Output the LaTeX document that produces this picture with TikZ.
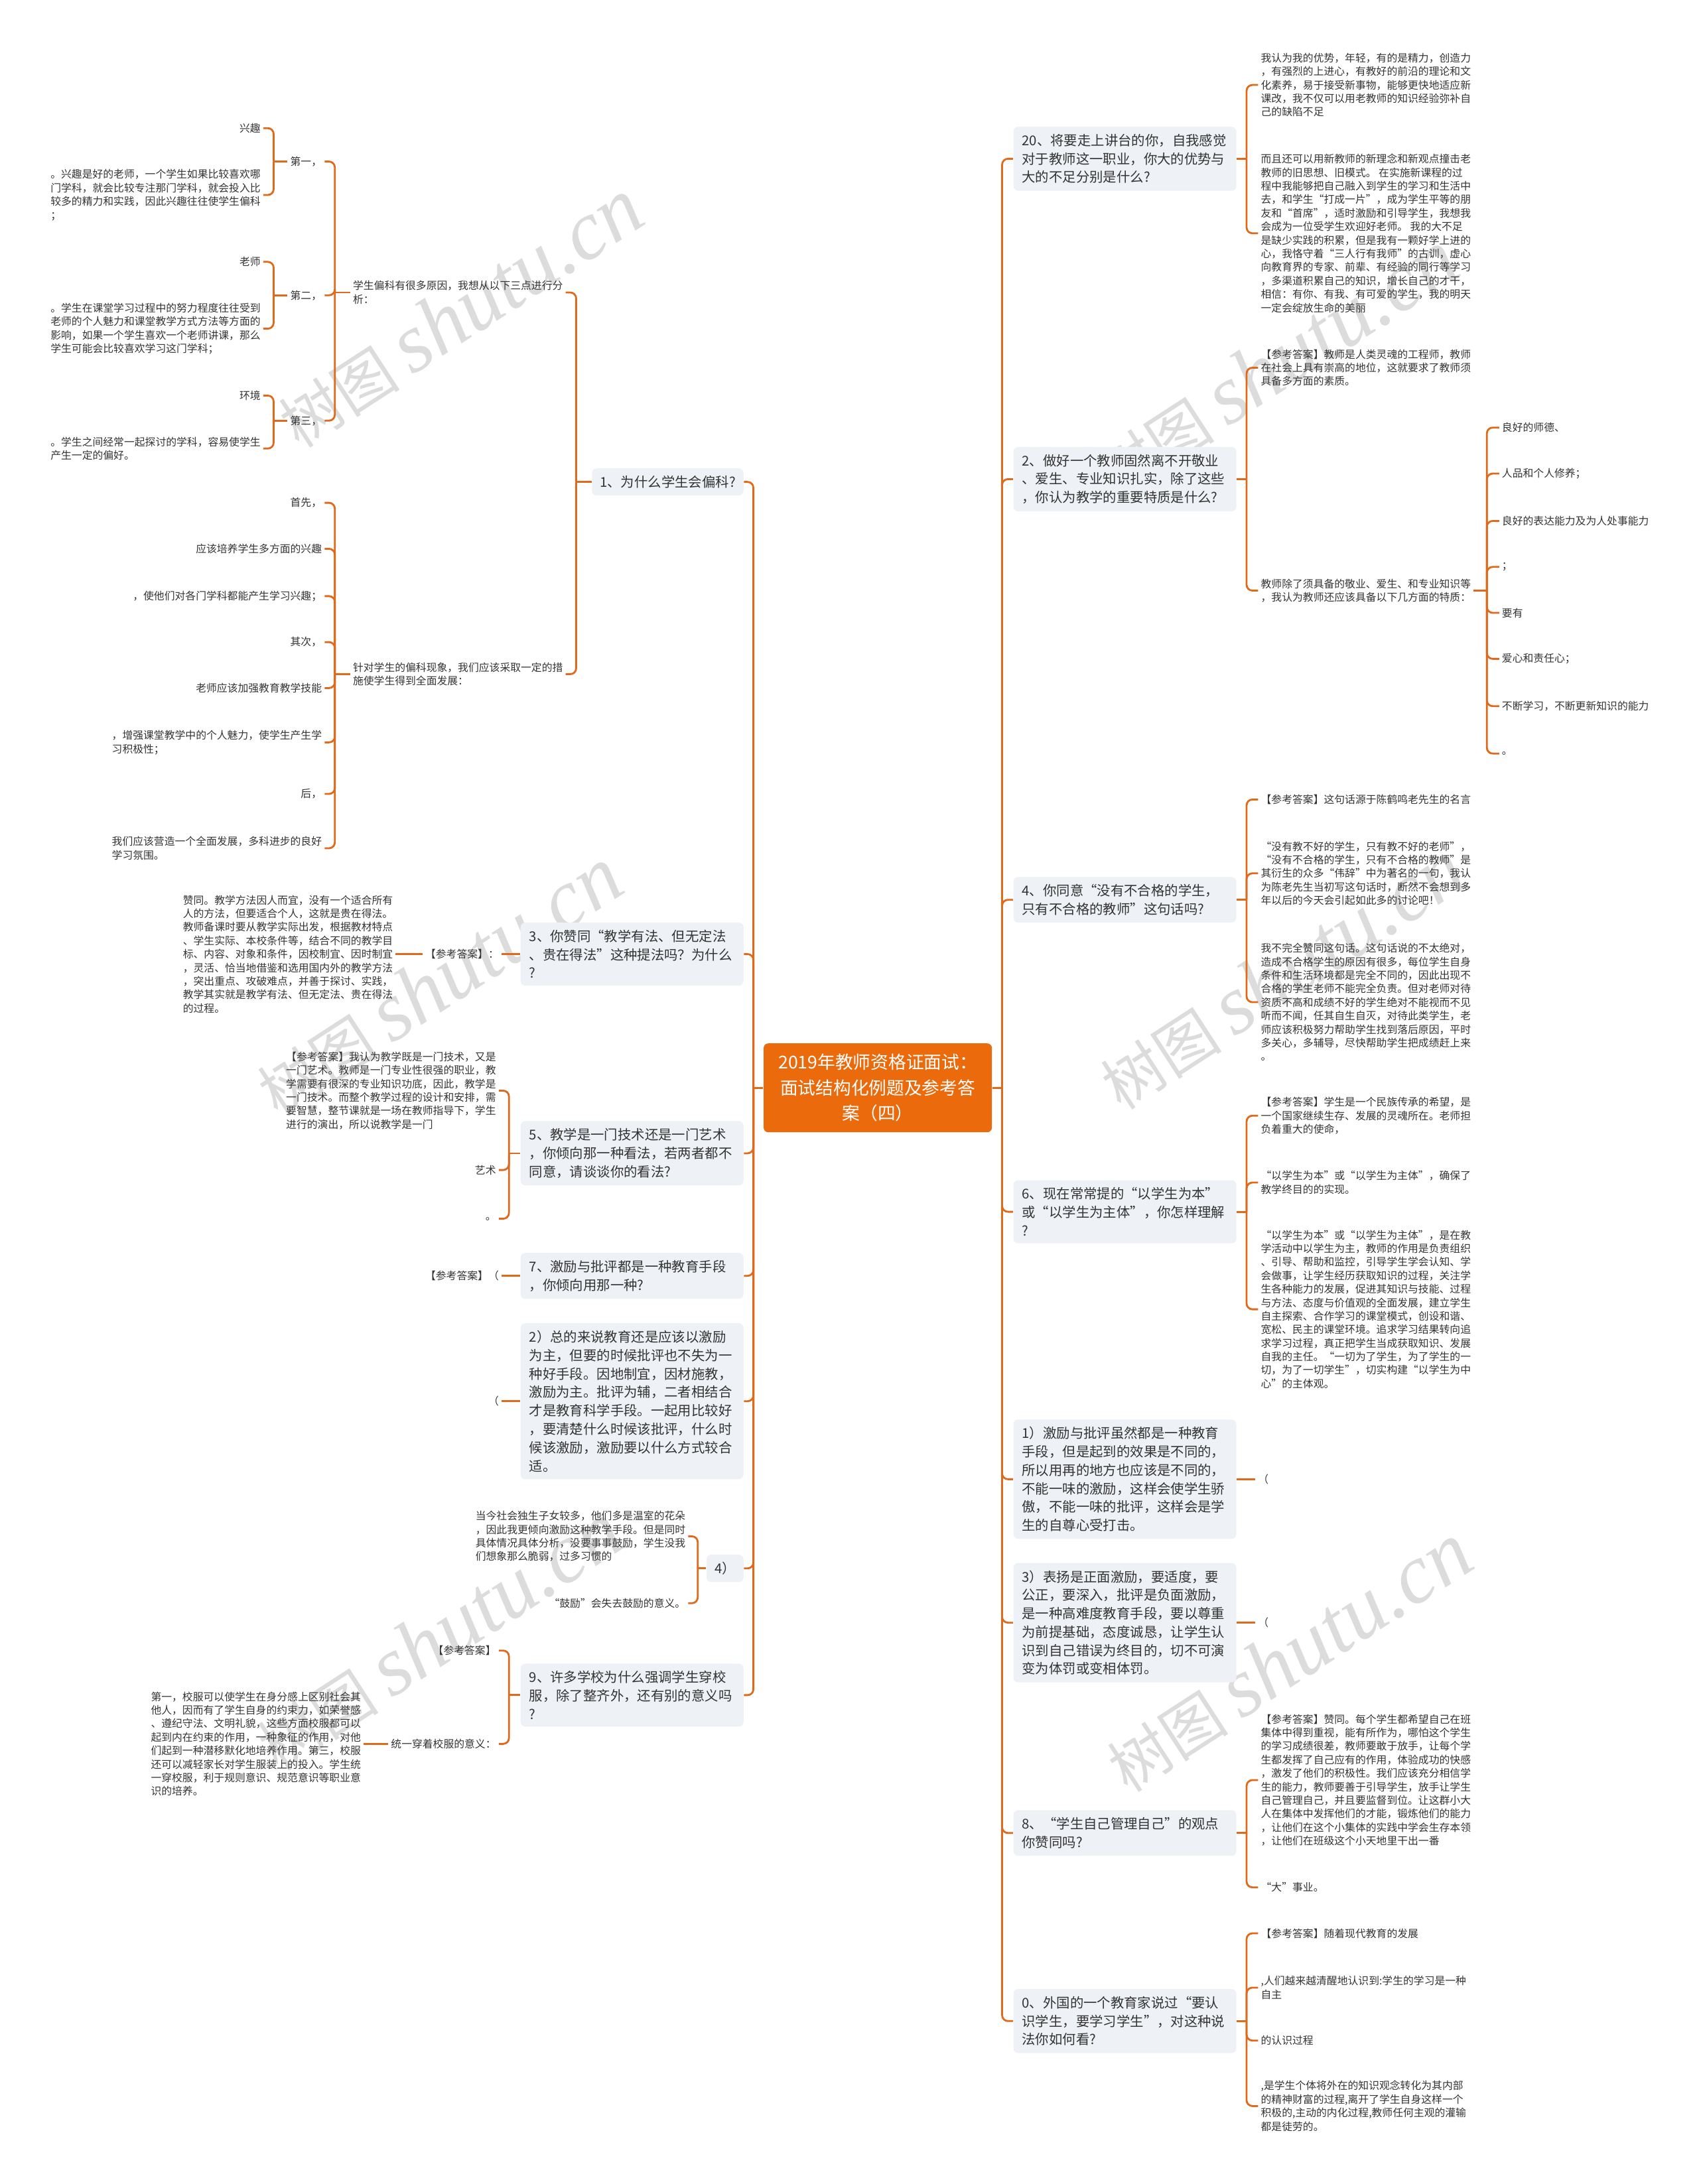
\documentclass[tikz,border=0pt]{standalone}
\usepackage{fontspec}
\setmainfont{Noto Sans CJK SC}
\newfontfamily\wmserif{Liberation Serif}
\definecolor{lineorange}{HTML}{E06A1B}
\definecolor{rootorange}{HTML}{EA6A0C}
\definecolor{boxgray}{HTML}{EEF1F5}
\definecolor{textgray}{HTML}{333333}
\definecolor{wmgray}{HTML}{DCDCDC}

\begin{document}
\begin{tikzpicture}[x=0.021cm, y=-0.021cm,
  link/.style={draw=lineorange, line width=0.8pt, rounded corners=2.5pt},
  rootbox/.style={fill=rootorange, text=white, rounded corners=2pt, inner sep=0pt,
    minimum width=3.44cm, minimum height=1.34cm, align=center,
    font=\fontsize{7.6pt}{10.9pt}\selectfont},
  qbase/.style={fill=boxgray, rounded corners=2pt, inner xsep=0.12cm, inner ysep=0.11cm,
    align=left, text=textgray, font=\fontsize{5.8pt}{7.9pt}\selectfont},
  qbox/.style={qbase, text width=3.1cm, inner xsep=0.13cm},
  leaf/.style={inner sep=1pt, align=left, text=textgray, font=\fontsize{4.5pt}{5.8pt}\selectfont},
  wmtext/.style={text=wmgray, rotate=33, inner sep=0pt, font=\fontsize{26pt}{30pt}\selectfont}]

\useasboundingbox (0,0) rectangle (1219,1568);

% Watermarks
\foreach \wx/\wy in {330/225, 915/262, 315/705, 920/700, 315/1175, 925/1190}
  \node[wmtext] (wm\wx) at (\wx,\wy) {树图 {\wmserif\itshape\fontsize{36pt}{40pt}\selectfont shutu.cn}};

% Root
\node[rootbox] (root) at (630,781) {2019年教师资格证面试：\\面试结构化例题及参考答\\案（四）};

% Right questions
\node[qbox, anchor=west] (q20) at (727,114) {20、将要走上讲台的你，自我感觉\\对于教师这一职业，你大的优势与\\大的不足分别是什么?};
\node[qbox, anchor=west] (q2) at (727,344) {2、做好一个教师固然离不开敬业\\、爱生、专业知识扎实，除了这些\\，你认为教学的重要特质是什么?};
\node[qbox, anchor=west] (q4) at (727,646) {4、你同意“没有不合格的学生，\\只有不合格的教师”这句话吗?};
\node[qbox, anchor=west] (q6) at (727,870) {6、现在常常提的“以学生为本”\\或“以学生为主体”，你怎样理解\\?};
\node[qbox, anchor=west] (q1r) at (727,1062) {1）激励与批评虽然都是一种教育\\手段，但是起到的效果是不同的，\\所以用再的地方也应该是不同的，\\不能一味的激励，这样会使学生骄\\傲，不能一味的批评，这样会是学\\生的自尊心受打击。};
\node[qbox, anchor=west] (q3r) at (727,1165) {3）表扬是正面激励，要适度，要\\公正，要深入，批评是负面激励，\\是一种高难度教育手段，要以尊重\\为前提基础，态度诚恳，让学生认\\识到自己错误为终目的，切不可演\\变为体罚或变相体罚。};
\node[qbox, anchor=west] (q8) at (727,1316) {8、“学生自己管理自己”的观点\\你赞同吗?};
\node[qbox, anchor=west] (q0) at (727,1451) {0、外国的一个教育家说过“要认\\识学生，要学习学生”，对这种说\\法你如何看?};

% Left questions
\node[qbase, anchor=east] (q1) at (534,346) {1、为什么学生会偏科?};
\node[qbox, anchor=east] (q3) at (534,685) {3、你赞同“教学有法、但无定法\\、贵在得法”这种提法吗？为什么\\?};
\node[qbox, anchor=east] (q5) at (534,828) {5、教学是一门技术还是一门艺术\\，你倾向那一种看法，若两者都不\\同意，请谈谈你的看法?};
\node[qbox, anchor=east] (q7) at (534,916) {7、激励与批评都是一种教育手段\\，你倾向用那一种?};
\node[qbox, anchor=east] (q2l) at (534,1006) {2）总的来说教育还是应该以激励\\为主，但要的时候批评也不失为一\\种好手段。因地制宜，因材施教，\\激励为主。批评为辅，二者相结合\\才是教育科学手段。一起用比较好\\，要清楚什么时候该批评，什么时\\候该激励，激励要以什么方式较合\\适。};
\node[qbase, anchor=east] (q4l) at (534,1126) {4）};
\node[qbox, anchor=east] (q9) at (534,1217) {9、许多学校为什么强调学生穿校\\服，除了整齐外，还有别的意义吗\\?};

% Main connectors
\draw[link] (root.east) -- ++(7,0) coordinate (rb);
\foreach \q in {q20,q2,q4,q6,q1r,q3r,q8,q0}
  \draw[link] (rb) |- (\q.west);
\draw[link] (root.west) -- ++(-7,0) coordinate (lb);
\foreach \q in {q1,q3,q5,q7,q2l,q4l,q9}
  \draw[link] (lb) |- (\q.east);

% 20
\node[leaf, anchor=west] (q20a) at (903,61) {我认为我的优势，年轻，有的是精力，创造力\\，有强烈的上进心，有教好的前沿的理论和文\\化素养，易于接受新事物，能够更快地适应新\\课改，我不仅可以用老教师的知识经验弥补自\\己的缺陷不足};
\node[leaf, anchor=west] (q20b) at (903,167.5) {而且还可以用新教师的新理念和新观点撞击老\\教师的旧思想、旧模式。 在实施新课程的过\\程中我能够把自己融入到学生的学习和生活中\\去，和学生“打成一片”，成为学生平等的朋\\友和“首席”，适时激励和引导学生，我想我\\会成为一位受学生欢迎好老师。 我的大不足\\是缺少实践的积累，但是我有一颗好学上进的\\心，我恪守着“三人行有我师”的古训，虚心\\向教育界的专家、前辈、有经验的同行等学习\\，多渠道积累自己的知识，增长自己的才干，\\相信：有你、有我、有可爱的学生，我的明天\\一定会绽放生命的美丽};
\draw[link] (q20.east) -- ++(7,0) coordinate (b20);
\foreach \c in {q20a,q20b} \draw[link] (b20) |- (\c.west);

% 2
\node[leaf, anchor=west] (q2a) at (903,264) {【参考答案】教师是人类灵魂的工程师，教师\\在社会上具有崇高的地位，这就要求了教师须\\具备多方面的素质。};
\node[leaf, anchor=west] (q2b) at (903,424) {教师除了须具备的敬业、爱生、和专业知识等\\，我认为教师还应该具备以下几方面的特质：};
\draw[link] (q2.east) -- ++(7,0) coordinate (b2);
\foreach \c in {q2a,q2b} \draw[link] (b2) |- (\c.west);
\foreach \n/\y/\t in {1/307/良好的师德、, 2/340/人品和个人修养；, 3/374/良好的表达能力及为人处事能力, 4/407/；, 5/440/要有, 6/473/爱心和责任心；, 7/507/不断学习，不断更新知识的能力, 8/541/。}
  \node[leaf, anchor=west] (q2b\n) at (1076,\y) {\t};
\draw[link] (q2b.east) -- ++(9.5,0) coordinate (b2b);
\foreach \n in {1,...,8} \draw[link] (b2b) |- (q2b\n.west);

% 4
\node[leaf, anchor=west] (q4a) at (903,574) {【参考答案】这句话源于陈鹤鸣老先生的名言};
\node[leaf, anchor=west] (q4b) at (903,627) {“没有教不好的学生，只有教不好的老师”，\\“没有不合格的学生，只有不合格的教师”是\\其衍生的众多“伟辞”中为著名的一句，我认\\为陈老先生当初写这句话时，断然不会想到多\\年以后的今天会引起如此多的讨论吧！};
\node[leaf, anchor=west] (q4c) at (903,719.5) {我不完全赞同这句话。这句话说的不太绝对，\\造成不合格学生的原因有很多，每位学生自身\\条件和生活环境都是完全不同的，因此出现不\\合格的学生老师不能完全负责。但对老师对待\\资质不高和成绩不好的学生绝对不能视而不见\\听而不闻，任其自生自灭，对待此类学生，老\\师应该积极努力帮助学生找到落后原因，平时\\多关心，多辅导，尽快帮助学生把成绩赶上来\\。};
\draw[link] (q4.east) -- ++(7,0) coordinate (b4);
\foreach \c in {q4a,q4b,q4c} \draw[link] (b4) |- (\c.west);

% 6
\node[leaf, anchor=west] (q6a) at (903,801) {【参考答案】学生是一个民族传承的希望，是\\一个国家继续生存、发展的灵魂所在。老师担\\负着重大的使命，};
\node[leaf, anchor=west] (q6b) at (903,849) {“以学生为本”或“以学生为主体”，确保了\\教学终目的的实现。};
\node[leaf, anchor=west] (q6c) at (903,940) {“以学生为本”或“以学生为主体”，是在教\\学活动中以学生为主，教师的作用是负责组织\\、引导、帮助和监控，引导学生学会认知、学\\会做事，让学生经历获取知识的过程，关注学\\生各种能力的发展，促进其知识与技能、过程\\与方法、态度与价值观的全面发展，建立学生\\自主探索、合作学习的课堂模式，创设和谐、\\宽松、民主的课堂环境。追求学习结果转向追\\求学习过程，真正把学生当成获取知识、发展\\自我的主任。“一切为了学生，为了学生的一\\切，为了一切学生”，切实构建“以学生为中\\心”的主体观。};
\draw[link] (q6.east) -- ++(7,0) coordinate (b6);
\foreach \c in {q6a,q6b,q6c} \draw[link] (b6) |- (\c.west);

% 1) and 3)
\node[leaf, anchor=west] (q1ra) at (901,1062) {（};
\draw[link] (q1r.east) -- (q1ra.west);
\node[leaf, anchor=west] (q3ra) at (901,1165) {（};
\draw[link] (q3r.east) -- (q3ra.west);

% 8
\node[leaf, anchor=west] (q8a) at (903,1278) {【参考答案】赞同。每个学生都希望自己在班\\集体中得到重视，能有所作为，哪怕这个学生\\的学习成绩很差，教师要敢于放手，让每个学\\生都发挥了自己应有的作用，体验成功的快感\\，激发了他们的积极性。我们应该充分相信学\\生的能力，教师要善于引导学生，放手让学生\\自己管理自己，并且要监督到位。让这群小大\\人在集体中发挥他们的才能，锻炼他们的能力\\，让他们在这个小集体的实践中学会生存本领\\，让他们在班级这个小天地里干出一番};
\node[leaf, anchor=west] (q8b) at (903,1355) {“大”事业。};
\draw[link] (q8.east) -- ++(7,0) coordinate (b8);
\foreach \c in {q8a,q8b} \draw[link] (b8) |- (\c.west);

% 0
\node[leaf, anchor=west] (q0a) at (903,1388) {【参考答案】随着现代教育的发展};
\node[leaf, anchor=west] (q0b) at (903,1427) {,人们越来越清醒地认识到:学生的学习是一种\\自主};
\node[leaf, anchor=west] (q0c) at (903,1465) {的认识过程};
\node[leaf, anchor=west] (q0d) at (903,1512) {,是学生个体将外在的知识观念转化为其内部\\的精神财富的过程,离开了学生自身这样一个\\积极的,主动的内化过程,教师任何主观的灌输\\都是徒劳的。};
\draw[link] (q0.east) -- ++(7,0) coordinate (b0);
\foreach \c in {q0a,q0b,q0c,q0d} \draw[link] (b0) |- (\c.west);

% 1 (left)
\node[leaf, anchor=east] (q1a) at (406,210) {学生偏科有很多原因，我想从以下三点进行分\\析：};
\node[leaf, anchor=east] (q1b) at (406,484) {针对学生的偏科现象，我们应该采取一定的措\\施使学生得到全面发展：};
\draw[link] (q1.west) -- ++(-11,0) coordinate (b1);
\foreach \c in {q1a,q1b} \draw[link] (b1) |- (\c.east);

\foreach \n/\y/\t in {1/116/第一，, 2/212/第二，, 3/302/第三，}
  \node[leaf, anchor=east] (q1a\n) at (233,\y) {\t};
\draw[link] (q1a.west) -- ++(-11,0) coordinate (b1a);
\foreach \n in {1,2,3} \draw[link] (b1a) |- (q1a\n.east);

\node[leaf, anchor=east] (q1a1x) at (189,92) {兴趣};
\node[leaf, anchor=east] (q1a1y) at (189,140) {。兴趣是好的老师，一个学生如果比较喜欢哪\\门学科，就会比较专注那门学科，就会投入比\\较多的精力和实践，因此兴趣往往使学生偏科\\；};
\node[leaf, anchor=east] (q1a2x) at (189,188) {老师};
\node[leaf, anchor=east] (q1a2y) at (189,236) {。学生在课堂学习过程中的努力程度往往受到\\老师的个人魅力和课堂教学方式方法等方面的\\影响，如果一个学生喜欢一个老师讲课，那么\\学生可能会比较喜欢学习这门学科；};
\node[leaf, anchor=east] (q1a3x) at (189,284) {环境};
\node[leaf, anchor=east] (q1a3y) at (189,322) {。学生之间经常一起探讨的学科，容易使学生\\产生一定的偏好。};
\foreach \n in {1,2,3} {
  \draw[link] (q1a\n.west) -- ++(-10,0) coordinate (b1a\n);
  \draw[link] (b1a\n) |- (q1a\n x.east);
  \draw[link] (b1a\n) |- (q1a\n y.east);
}

\foreach \n/\y/\t in {1/361/首先，, 2/394/应该培养学生多方面的兴趣, 3/428/，使他们对各门学科都能产生学习兴趣；, 4/461/其次，, 5/494/老师应该加强教育教学技能, 7/570/后，}
  \node[leaf, anchor=east] (q1b\n) at (233,\y) {\t};
\node[leaf, anchor=east] (q1b6) at (233,533) {，增强课堂教学中的个人魅力，使学生产生学\\习积极性；};
\node[leaf, anchor=east] (q1b8) at (233,609) {我们应该营造一个全面发展，多科进步的良好\\学习氛围。};
\draw[link] (q1b.west) -- ++(-11,0) coordinate (b1b);
\foreach \n in {1,...,8} \draw[link] (b1b) |- (q1b\n.east);

% 3 (left)
\node[leaf, anchor=east] (q3a) at (360,685) {【参考答案】：};
\node[leaf, anchor=east] (q3aa) at (284,685) {赞同。教学方法因人而宜，没有一个适合所有\\人的方法，但要适合个人，这就是贵在得法。\\教师备课时要从教学实际出发，根据教材特点\\、学生实际、本校条件等，结合不同的教学目\\标、内容、对象和条件，因校制宜、因时制宜\\，灵活、恰当地借鉴和选用国内外的教学方法\\，突出重点、攻破难点，并善于探讨、实践，\\教学其实就是教学有法、但无定法、贵在得法\\的过程。};
\draw[link] (q3.west) -- (q3a.east);
\draw[link] (q3a.west) -- (q3aa.east);

% 5 (left)
\node[leaf, anchor=east] (q5a) at (358,783) {【参考答案】我认为教学既是一门技术，又是\\一门艺术。教师是一门专业性很强的职业，教\\学需要有很深的专业知识功底，因此，教学是\\一门技术。而整个教学过程的设计和安排，需\\要智慧，整节课就是一场在教师指导下，学生\\进行的演出，所以说教学是一门};
\node[leaf, anchor=east] (q5b) at (358,840) {艺术};
\node[leaf, anchor=east] (q5c) at (358,875) {。};
\draw[link] (q5.west) -- ++(-8,0) coordinate (b5);
\foreach \c in {q5a,q5b,q5c} \draw[link] (b5) |- (\c.east);

% 7 and 2) (left)
\node[leaf, anchor=east] (q7a) at (360,916) {【参考答案】（};
\draw[link] (q7.west) -- (q7a.east);
\node[leaf, anchor=east] (q2la) at (360,1006) {（};
\draw[link] (q2l.west) -- (q2la.east);

% 4) (left)
\node[leaf, anchor=east] (q4la) at (494,1103) {当今社会独生子女较多，他们多是温室的花朵\\，因此我更倾向激励这种教学手段。但是同时\\具体情况具体分析，没要事事鼓励，学生没我\\们想象那么脆弱，过多习惯的};
\node[leaf, anchor=east] (q4lb) at (494,1151) {“鼓励”会失去鼓励的意义。};
\draw[link] (q4l.west) -- ++(-6,0) coordinate (b4l);
\foreach \c in {q4la,q4lb} \draw[link] (b4l) |- (\c.east);

% 9 (left)
\node[leaf, anchor=east] (q9a) at (358,1185) {【参考答案】};
\node[leaf, anchor=east] (q9b) at (358,1252) {统一穿着校服的意义：};
\node[leaf, anchor=east] (q9ba) at (261,1252) {第一，校服可以使学生在身分感上区别社会其\\他人，因而有了学生自身的约束力，如荣誉感\\、遵纪守法、文明礼貌，这些方面校服都可以\\起到内在约束的作用，一种象征的作用，对他\\们起到一种潜移默化地培养作用。第三，校服\\还可以减轻家长对学生服装上的投入。学生统\\一穿校服，利于规则意识、规范意识等职业意\\识的培养。};
\draw[link] (q9.west) -- ++(-8,0) coordinate (b9);
\foreach \c in {q9a,q9b} \draw[link] (b9) |- (\c.east);
\draw[link] (q9b.west) -- (q9ba.east);

\end{tikzpicture}
\end{document}
